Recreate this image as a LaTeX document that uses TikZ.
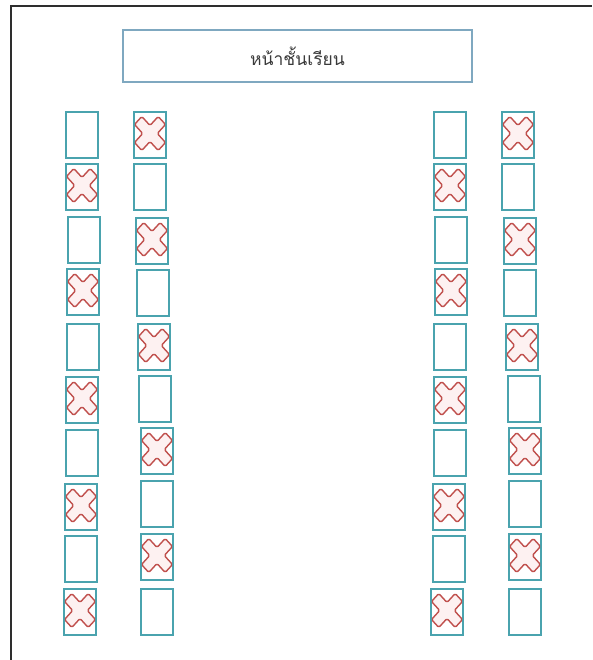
\documentclass[tikz,border=0pt]{standalone}
\usepackage{fontspec}
\newfontfamily\thaifont[Script=Thai]{Loma}
\definecolor{deskcol}{HTML}{4AA3AE}
\definecolor{crossred}{HTML}{C0504D}
\definecolor{crossfill}{HTML}{FDF1F1}
\definecolor{titlecol}{HTML}{7FA8C0}
\definecolor{framecol}{HTML}{2E2E2E}
\definecolor{textcol}{HTML}{3A3A3A}
\tikzset{
  desk/.style={draw=deskcol, line width=2pt, fill=white, rectangle,
    minimum width=32pt, minimum height=46pt, inner sep=0pt},
  titlebox/.style={draw=titlecol, line width=1.6pt, rectangle,
    minimum width=349pt, minimum height=52pt, inner sep=0pt,
    font=\thaifont\fontsize{17.5}{20}\selectfont, text=textcol},
  crossline/.style={draw=crossred, fill=crossfill, line width=1.4pt,
    rounded corners=1.5pt, line join=round},
  xmark/.pic={
    \path[crossline] (0,8.0) -- (8.2,17) -- (15.5,9.0) -- (7.3,0)
      -- (15.5,-9.0) -- (8.2,-17) -- (0,-8.0) -- (-8.2,-17)
      -- (-15.5,-9.0) -- (-7.3,0) -- (-15.5,9.0) -- (-8.2,17) -- cycle;
  }
}
\begin{document}
\begin{tikzpicture}[x=1pt,y=-1pt]
\useasboundingbox (0,0) rectangle (592,660);
\fill[white] (0,0) rectangle (592,660);
% frame
\coordinate (fbl) at (11,660);
\coordinate (ftl) at (11,6);
\coordinate (ftr) at (592,6);
\draw[framecol, line width=2.2pt] (fbl) -- (ftl) -- (ftr);
% front of classroom
\node[titlebox] (front) at (297.5,56) {หน้าชั้นเรียน};
% desks: left x / top y / name / marked (1) or empty (0)
\foreach \lx/\ty/\nm/\mk in {
  65/111/a1/0, 65/163/a2/1, 67/216/a3/0, 66/268/a4/1, 66/323/a5/0,
  65/376/a6/1, 65/429/a7/0, 64/483/a8/1, 64/535/a9/0, 63/588/a10/1,
  133/111/b1/1, 133/163/b2/0, 135/217/b3/1, 136/269/b4/0, 137/323/b5/1,
  138/375/b6/0, 140/427/b7/1, 140/480/b8/0, 140/533/b9/1, 140/588/b10/0,
  433/111/c1/0, 433/163/c2/1, 434/216/c3/0, 434/268/c4/1, 433/323/c5/0,
  433/376/c6/1, 433/429/c7/0, 432/483/c8/1, 432/535/c9/0, 430/588/c10/1,
  501/111/d1/1, 501/163/d2/0, 503/217/d3/1, 503/269/d4/0, 505/323/d5/1,
  507/375/d6/0, 508/427/d7/1, 508/480/d8/0, 508/533/d9/1, 508/588/d10/0}{
  \node[desk] (\nm) at ({\lx+17},{\ty+24}) {};
  \ifnum\mk=1
    \pic at ([yshift=1.5pt]\nm.center) {xmark};
  \fi
}
\end{tikzpicture}
\end{document}
